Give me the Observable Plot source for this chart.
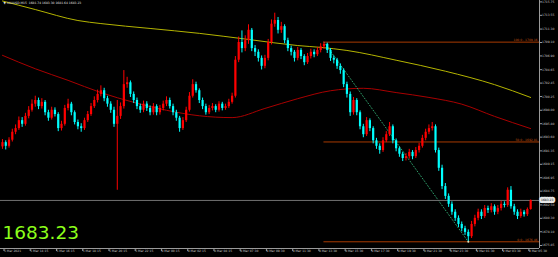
<!DOCTYPE html>
<html><head><meta charset="utf-8">
<script src="https://cdn.jsdelivr.net/npm/d3@7"></script>
<script src="https://cdn.jsdelivr.net/npm/@observablehq/plot@0.6"></script>
<style>html,body{margin:0;padding:0;background:#000;overflow:hidden}</style>
</head><body><div id="chart"></div>
<script>
const symbol = "XAUUSD,M15";
const opens = [
1692.0,1692.7,1692.1,1693.1,1694.4,1695.0,1696.3,1695.7,1697.0,1698.0,
1699.0,1699.6,1698.6,1699.3,1697.6,1696.7,1698.0,1697.3,1695.0,1695.7,
1698.3,1699.0,1697.6,1696.0,1695.3,1695.0,1696.3,1697.3,1698.6,1699.6,
1700.6,1701.2,1699.9,1699.0,1698.0,1695.7,1697.0,1698.6,1702.2,1702.5,
1700.6,1699.6,1698.6,1698.0,1699.0,1698.3,1697.6,1698.6,1697.6,1698.3,
1699.0,1699.6,1698.6,1697.6,1696.7,1695.0,1696.3,1698.0,1700.3,1702.2,
1701.2,1699.6,1698.6,1697.6,1698.3,1698.6,1698.0,1699.0,1698.3,1698.6,
1699.3,1700.3,1706.2,1709.1,1708.1,1709.4,1711.1,1708.1,1707.5,1706.5,
1705.2,1706.5,1709.1,1712.1,1712.7,1711.1,1711.7,1709.4,1708.1,1707.5,
1706.5,1707.8,1706.8,1705.8,1706.8,1707.5,1707.1,1707.8,1708.4,1708.8,
1707.8,1706.5,1706.2,1705.2,1704.5,1702.2,1700.6,1697.6,1699.6,1697.6,
1695.3,1694.0,1696.3,1695.0,1693.0,1692.1,1691.4,1693.0,1694.0,1695.3,
1693.0,1691.7,1690.8,1690.1,1690.4,1691.1,1690.4,1691.4,1692.1,1693.4,
1694.4,1695.0,1695.3,1691.4,1688.5,1685.5,1683.9,1682.6,1681.3,1680.3,
1679.3,1678.6,1678.0,1677.3,1679.3,1680.3,1681.3,1680.6,1681.9,1681.6,
1682.2,1681.3,1681.9,1682.6,1682.4,1684.9,1682.2,1681.3,1680.6,1681.3,
1680.9,1681.74];
const highs = [
1693.2,1693.0,1693.5,1694.9,1695.6,1696.9,1696.8,1697.5,1698.6,1699.7,
1700.3,1700.0,1699.9,1699.6,1698.0,1698.5,1698.4,1697.6,1696.2,1698.8,
1699.8,1699.3,1697.9,1696.4,1695.8,1696.7,1697.8,1699.1,1700.2,1701.3,
1702.0,1701.6,1700.3,1699.4,1698.5,1699.6,1699.2,1704.5,1703.4,1702.8,
1701.0,1700.0,1699.0,1699.5,1699.4,1698.7,1699.1,1698.9,1698.8,1699.5,
1700.2,1700.0,1699.0,1698.0,1697.0,1696.8,1698.5,1700.9,1703.0,1702.6,
1701.5,1700.0,1699.0,1698.8,1699.1,1698.9,1699.4,1699.3,1699.0,1699.8,
1700.8,1706.8,1710.0,1711.0,1710.2,1712.0,1711.4,1708.6,1707.9,1706.9,
1707.0,1709.6,1712.8,1713.9,1713.2,1712.4,1712.0,1709.8,1708.5,1707.8,
1708.3,1708.1,1707.1,1707.3,1708.0,1707.9,1708.3,1708.9,1709.16,1709.0,
1708.1,1706.9,1706.5,1705.6,1704.8,1702.6,1701.0,1700.1,1699.9,1697.9,
1695.7,1696.8,1696.6,1695.3,1693.4,1692.5,1693.5,1694.5,1696.0,1695.6,
1693.3,1692.0,1691.1,1690.9,1691.6,1691.4,1691.9,1692.6,1693.9,1694.9,
1695.6,1696.0,1695.6,1691.8,1689.0,1686.0,1684.3,1683.0,1681.7,1680.7,
1679.7,1679.0,1678.4,1679.8,1680.8,1681.8,1681.7,1682.4,1682.3,1682.7,
1682.5,1682.4,1683.1,1683.0,1685.3,1685.5,1682.6,1681.7,1681.8,1681.6,
1682.0,1683.30];
const lows = [
1691.6,1691.5,1691.8,1692.8,1694.0,1694.7,1695.2,1695.4,1696.6,1697.7,
1698.5,1698.1,1698.2,1697.1,1696.2,1696.4,1696.9,1694.5,1694.6,1695.4,
1697.9,1697.1,1695.6,1694.8,1694.4,1694.7,1696.0,1697.0,1698.3,1699.2,
1700.2,1699.4,1698.5,1697.5,1695.2,1684.9,1696.5,1698.2,1701.6,1700.1,
1699.1,1698.1,1697.5,1697.6,1697.8,1697.1,1697.2,1697.1,1697.2,1697.9,
1698.6,1698.2,1697.1,1696.2,1694.4,1694.7,1696.0,1697.7,1700.0,1700.8,
1699.1,1698.1,1697.2,1697.3,1697.9,1697.6,1697.7,1697.9,1698.0,1698.3,
1699.0,1700.0,1705.8,1707.4,1707.6,1708.8,1707.6,1706.8,1705.9,1704.6,
1704.8,1706.1,1708.7,1711.6,1710.5,1710.6,1708.9,1707.6,1706.9,1705.9,
1706.1,1706.3,1705.3,1705.5,1706.4,1706.6,1706.8,1707.4,1708.0,1707.3,
1706.0,1705.6,1704.7,1703.9,1701.7,1700.0,1697.0,1697.2,1697.1,1694.8,
1693.5,1693.7,1694.5,1692.5,1691.6,1690.8,1691.1,1692.7,1693.7,1692.5,
1691.2,1690.3,1689.6,1689.7,1690.0,1689.9,1690.1,1691.0,1691.8,1693.0,
1694.0,1694.6,1691.0,1688.0,1685.0,1683.4,1682.1,1680.8,1679.8,1678.8,
1678.1,1677.5,1676.46,1677.0,1678.9,1679.9,1680.1,1680.3,1681.1,1681.2,
1680.8,1680.9,1681.5,1682.0,1682.1,1681.8,1680.8,1680.1,1680.3,1680.5,
1680.6,1681.64];
const closes = [
1692.7,1692.1,1693.1,1694.4,1695.0,1696.3,1695.7,1697.0,1698.0,1699.0,
1699.6,1698.6,1699.3,1697.6,1696.7,1698.0,1697.3,1695.0,1695.7,1698.3,
1699.0,1697.6,1696.0,1695.3,1695.0,1696.3,1697.3,1698.6,1699.6,1700.6,
1701.2,1699.9,1699.0,1698.0,1695.7,1697.0,1698.6,1702.2,1702.5,1700.6,
1699.6,1698.6,1698.0,1699.0,1698.3,1697.6,1698.6,1697.6,1698.3,1699.0,
1699.6,1698.6,1697.6,1696.7,1695.0,1696.3,1698.0,1700.3,1702.2,1701.2,
1699.6,1698.6,1697.6,1698.3,1698.6,1698.0,1699.0,1698.3,1698.6,1699.3,
1700.3,1706.2,1709.1,1708.1,1709.4,1711.1,1708.1,1707.5,1706.5,1705.2,
1706.5,1709.1,1712.1,1712.7,1711.1,1711.7,1709.4,1708.1,1707.5,1706.5,
1707.8,1706.8,1705.8,1706.8,1707.5,1707.1,1707.8,1708.4,1708.8,1707.8,
1706.5,1706.2,1705.2,1704.5,1702.2,1700.6,1697.6,1699.6,1697.6,1695.3,
1694.0,1696.3,1695.0,1693.0,1692.1,1691.4,1693.0,1694.0,1695.3,1693.0,
1691.7,1690.8,1690.1,1690.4,1691.1,1690.4,1691.4,1692.1,1693.4,1694.4,
1695.0,1695.3,1691.4,1688.5,1685.5,1683.9,1682.6,1681.3,1680.3,1679.3,
1678.6,1678.0,1677.3,1679.3,1680.3,1681.3,1680.6,1681.9,1681.6,1682.2,
1681.3,1681.9,1682.6,1682.4,1684.9,1682.2,1681.3,1680.6,1681.3,1680.9,
1681.74,1683.23];

// moving averages (bar index, price)
const yellowMaIdx = [0,10,23,30,45,60,75,90,97,105,120,135,150,161];
const yellowMaVal = [1715.9,1714.5,1712.7,1712.2,1711.4,1710.6,1709.6,1708.6,1708.3,1707.8,1706.2,1704.4,1702.2,1700.1];
const redMaIdx = [0,10,20,30,40,50,60,70,80,90,100,110,120,130,140,150,161];
const redMaVal = [1707.0,1704.8,1702.9,1700.9,1699.3,1698.0,1697.1,1696.8,1698.3,1699.9,1701.2,1701.6,1700.9,1700.1,1699.0,1697.0,1695.0];

// Fibonacci retracement
const fibAnchorIdx = [98, 142];
const fibAnchorPrice = [1709.16, 1676.46];
const fibLevels = [100.0, 50.0, 0.0];
const fibPrices = [1709.16, 1692.81, 1676.46];

// axes
const priceTicks = [1715.75,1713.55,1711.30,1709.10,1706.90,1704.65,1702.45,1700.25,1698.00,1695.80,1693.60,1691.35,1689.15,1686.95,1684.75,1682.50,1680.30,1678.10,1675.85];
const timeTickIdx = [0,8,16,24,32,40,48,56,64,72,80,88,96,104,112,120,128,136,144,152,160];
const timeTickLabels = ["5 Mar 2021","5 Mar 14:15","5 Mar 16:15","5 Mar 18:15","5 Mar 20:15","5 Mar 22:15","8 Mar 00:15","8 Mar 02:15","8 Mar 04:15","8 Mar 07:30","8 Mar 09:30","8 Mar 11:30","8 Mar 13:30","8 Mar 15:30","8 Mar 17:30","8 Mar 19:30","8 Mar 21:30","8 Mar 23:30","9 Mar 01:30","9 Mar 03:30","9 Mar 05:30"];

const xDomain = [-0.6, 163.7];
const yDomain = [1675.36, 1715.98];

const bars = closes.map((c, i) => ({i, o: opens[i], h: highs[i], l: lows[i], c}));
const up = bars.filter(d => d.c >= d.o);
const down = bars.filter(d => d.c < d.o);
const yellowMa = yellowMaIdx.map((i, k) => ({i, v: yellowMaVal[k]}));
const redMa = redMaIdx.map((i, k) => ({i, v: redMaVal[k]}));
const fibRows = fibLevels.map((lv, k) => ({lv, p: fibPrices[k], x1: fibAnchorIdx[0], x2: xDomain[1]}));
const fibDiag = fibAnchorIdx.map((i, k) => ({i, p: fibAnchorPrice[k]}));
const last = bars[bars.length - 1];
const labelMap = new Map(timeTickIdx.map((t, k) => [t, timeTickLabels[k]]));

const BULL = "#ff0000", BEAR = "#00ffff";
const FONT = "DejaVu Sans";

const chart = Plot.plot({
  width: 558, height: 257,
  marginLeft: 0, marginRight: 19, marginTop: 0, marginBottom: 9,
  x: {domain: xDomain},
  y: {domain: yDomain},
  style: {background: "#000", fontFamily: FONT, color: "#ccc"},
  marks: [
    Plot.line(yellowMa, {x: "i", y: "v", stroke: "#b4b400", strokeWidth: 1, curve: "monotone-x"}),
    Plot.line(redMa, {x: "i", y: "v", stroke: "#a80000", strokeWidth: 1, curve: "monotone-x"}),
    Plot.ruleY(fibRows, {y: "p", x1: "x1", x2: "x2", stroke: "#a83a00", strokeWidth: 1}),
    Plot.text(fibRows, {y: "p", text: d => `${d.lv.toFixed(1)} - ${d.p.toFixed(2)}`, frameAnchor: "right", textAnchor: "end", dx: -2, dy: -2.2, fontSize: 3, fill: "#c05010"}),
    Plot.line(fibDiag, {x: "i", y: "p", stroke: "#2e9d6a", strokeWidth: 1, strokeDasharray: "1,2"}),
    Plot.ruleY([last.c], {stroke: "#707070", strokeWidth: 1}),
    Plot.ruleX(up, {x: "i", y1: "l", y2: "h", stroke: BULL, strokeWidth: 1}),
    Plot.ruleX(down, {x: "i", y1: "l", y2: "h", stroke: BEAR, strokeWidth: 1}),
    Plot.ruleX(up, {x: "i", y1: "o", y2: "c", stroke: BULL, strokeWidth: 2.2}),
    Plot.ruleX(down, {x: "i", y1: "o", y2: "c", stroke: BEAR, strokeWidth: 2.2}),
    Plot.dot([fibDiag[1]], {x: "i", y: "p", r: 1, fill: "#e0e0c0"}),
    Plot.ruleX([xDomain[1]], {stroke: "#9a9a9a"}),
    Plot.ruleY([yDomain[0]], {stroke: "#9a9a9a"}),
    Plot.axisY({anchor: "right", ticks: priceTicks, tickFormat: d => d.toFixed(2), tickSize: 2, tickPadding: 0.5, fontSize: 3, color: "#c8c8c8", stroke: "#9a9a9a"}),
    Plot.axisX({anchor: "bottom", ticks: timeTickIdx, tickFormat: d => labelMap.get(d), tickSize: 3, tickPadding: -2, textAnchor: "start", dx: 1.5, fontSize: 3, color: "#c8c8c8", stroke: "#9a9a9a"}),
    Plot.text([last], {y: "c", text: d => d.c.toFixed(2), frameAnchor: "right", textAnchor: "start", dx: 1.5, fontSize: 3, fill: "#000", stroke: "#e6e6e6", strokeWidth: 4, paintOrder: "stroke"}),
    Plot.text([last], {text: d => d.c.toFixed(2), frameAnchor: "bottom-left", textAnchor: "start", lineAnchor: "bottom", dx: 2, dy: -10, fontSize: 18.5, fill: "#8cff1a"}),
    Plot.text([last], {text: d => `\u25BC ${symbol}  ${d.o.toFixed(2)} ${d.h.toFixed(2)} ${d.l.toFixed(2)} ${d.c.toFixed(2)}`, frameAnchor: "top-left", textAnchor: "start", lineAnchor: "top", dx: 3, dy: 1.5, fontSize: 3, fill: "#e0e0e0"})
  ]
});
document.getElementById("chart").appendChild(chart);
</script>
</body></html>
